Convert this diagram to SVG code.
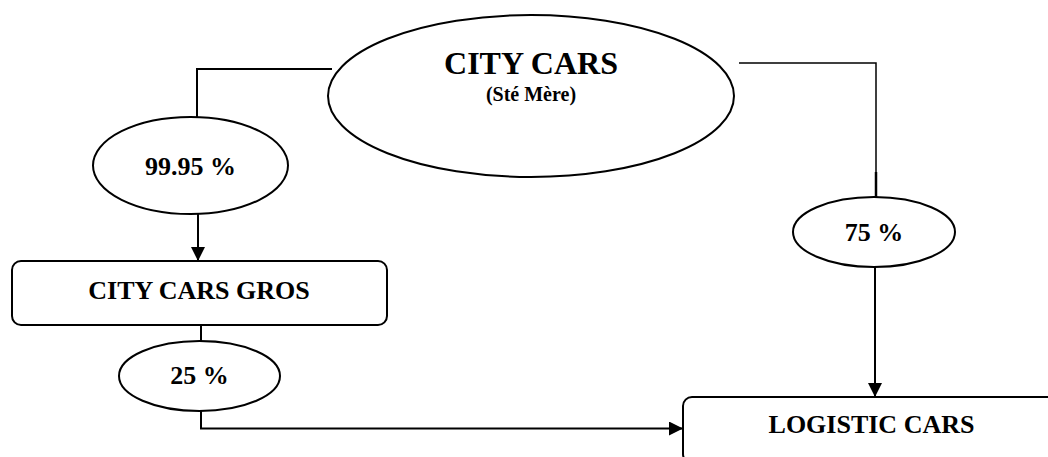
<svg xmlns="http://www.w3.org/2000/svg" width="1048" height="457" viewBox="0 0 1048 457">
<style>
  .shape { fill: #fff; stroke: #000; stroke-width: 2; }
  .line { fill: none; stroke: #000; stroke-width: 2; }
  .t { font-family: "Liberation Serif", "Times New Roman", serif; font-weight: bold; fill: #000; text-anchor: middle; }
</style>
<defs>
  <marker id="arr" viewBox="0 0 14 14" refX="14" refY="7" markerWidth="14" markerHeight="14" markerUnits="userSpaceOnUse" orient="auto">
    <path d="M0,0 L14,7 L0,14 Z" fill="#000"/>
  </marker>
</defs>
<rect width="1048" height="457" fill="#fff"/>
<g id="connectors">
  <polyline class="line" points="332,69 197,69 197,117"/>
  <line class="line" x1="198" y1="214" x2="198" y2="261" marker-end="url(#arr)"/>
  <polyline class="line" style="stroke-width:1.5" points="739,63 876,63 876,174"/>
  <line class="line" style="stroke-width:2.5" x1="876" y1="172" x2="876" y2="197"/>
  <line class="line" x1="875" y1="267" x2="875" y2="397" marker-end="url(#arr)"/>
  <line class="line" x1="201" y1="325" x2="201" y2="341"/>
  <polyline class="line" points="201,411 201,428.5 683,428.5" marker-end="url(#arr)"/>
</g>
<g id="city-cars">
  <ellipse class="shape" cx="531" cy="96" rx="203" ry="81"/>
  <text class="t" x="531" y="74" font-size="32">CITY CARS</text>
  <text class="t" x="531" y="101" font-size="20">(Sté Mère)</text>
</g>
<g id="pct-9995">
  <ellipse class="shape" cx="190.5" cy="165.5" rx="97.5" ry="48.5"/>
  <text class="t" x="190.5" y="175" font-size="26">99.95 %</text>
</g>
<g id="city-cars-gros">
  <rect class="shape" x="12" y="261" width="375" height="64" rx="9"/>
  <text class="t" x="199" y="299" font-size="26">CITY CARS GROS</text>
</g>
<g id="pct-25">
  <ellipse class="shape" cx="199.5" cy="376" rx="80.5" ry="35"/>
  <text class="t" x="199.5" y="384" font-size="26">25 %</text>
</g>
<g id="pct-75">
  <ellipse class="shape" cx="874" cy="232" rx="81" ry="35"/>
  <text class="t" x="874" y="241" font-size="26">75 %</text>
</g>
<g id="logistic-cars">
  <rect class="shape" x="683" y="397" width="380" height="66" rx="9"/>
  <text class="t" x="871.5" y="433" font-size="26">LOGISTIC CARS</text>
</g>
</svg>
